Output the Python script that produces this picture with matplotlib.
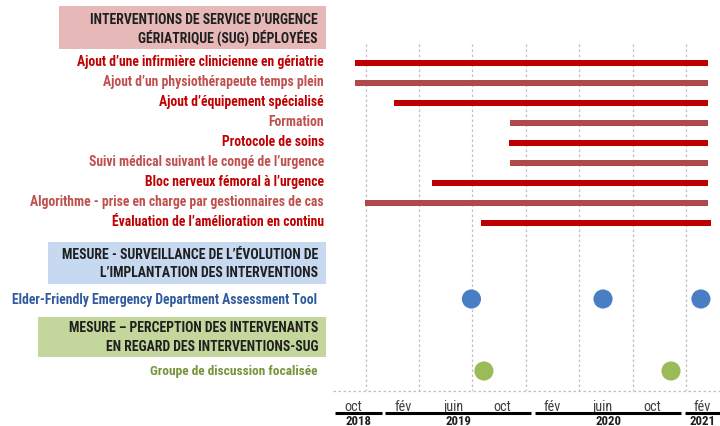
import matplotlib
matplotlib.use("Agg")
import matplotlib.pyplot as plt
from matplotlib import font_manager as fm
from matplotlib.transforms import blended_transform_factory
from matplotlib.patches import Rectangle

# ---------------- data ----------------
# time expressed in months since January 2018 (0 = Jan 2018)
interventions = [
    "Ajout d\u2019une infirmière clinicienne en gériatrie",
    "Ajout d\u2019un physiothérapeute temps plein",
    "Ajout d\u2019équipement spécialisé",
    "Formation",
    "Protocole de soins",
    "Suivi médical suivant le congé de l\u2019urgence",
    "Bloc nerveux fémoral à l\u2019urgence",
    "Algorithme - prise en charge par gestionnaires de cas",
    "Évaluation de l\u2019amélioration en continu",
]
start_months = [9.2, 9.2, 12.3, 21.6, 21.5, 21.6, 15.3, 10.0, 19.3]
end_months = [37.5, 37.5, 37.5, 37.5, 37.5, 37.5, 37.5, 37.5, 37.7]

efedat_label = "Elder-Friendly Emergency Department Assessment Tool"
efedat_months = [18.5, 29.05, 36.9]

focus_label = "Groupe de discussion focalisée"
focus_months = [19.5, 34.5]

header_interventions = ["INTERVENTIONS DE SERVICE D\u2019URGENCE", "GÉRIATRIQUE (SUG) DÉPLOYÉES"]
header_surveillance = ["MESURE - SURVEILLANCE DE L\u2019ÉVOLUTION DE", "L\u2019IMPLANTATION DES INTERVENTIONS"]
header_perception = ["MESURE \u2013 PERCEPTION DES INTERVENANTS", "EN REGARD DES INTERVENTIONS-SUG"]

month_tick_positions = [9, 13, 17, 21, 25, 29, 33, 37]
month_tick_labels = ["oct", "fév", "juin", "oct", "fév", "juin", "oct", "fév"]
years = [2018, 2019, 2020, 2021]
grid_months = [10.04, 14.3, 18.54, 22.87, 27.12, 31.45, 35.7]

# ---------------- fonts ----------------
entries = fm.fontManager.ttflist
names = {f.name for f in entries}
STRETCH = "normal"
if "Roboto Condensed" in names:
    FAM = ["Roboto Condensed", "DejaVu Sans"]
    K = 1.12
elif "Liberation Sans Narrow" in names:
    FAM = ["Liberation Sans Narrow", "DejaVu Sans"]
    K = 1.1
else:
    FAM = ["DejaVu Sans"]
    K = 0.88
plt.rcParams["font.family"] = FAM
plt.rcParams["font.stretch"] = STRETCH

# ---------------- layout helpers ----------------
W, H = 720, 427
def fx(px):
    return px / W
def ry(py):
    return (py - 64) / 20.0

fig = plt.figure(figsize=(7.2, 4.27), dpi=100)
ax = fig.add_axes([333 / W, 1 - 392 / H, 387 / W, 392 / H])
ax.set_xlim(7.40, 38.43)
ax.set_ylim(ry(392), ry(0))
for s in ax.spines.values():
    s.set_visible(False)
ax.set_yticks([])

# grid and bottom dotted line
ax.vlines(grid_months, ry(45), ry(392), colors="#BFBFBF", linestyles=(0, (2, 2)), linewidth=0.9, zorder=0)
ax.axhline(ry(391.5), color="#BFBFBF", linestyle=(0, (2, 2)), linewidth=0.9, clip_on=False, zorder=0)

# bars
bar_colors = ["#C00000" if i % 2 == 0 else "#B04A4A" for i in range(len(interventions))]
label_colors = ["#C00000" if i % 2 == 0 else "#C0504D" for i in range(len(interventions))]
rows = list(range(len(interventions)))
widths = [e - s for s, e in zip(start_months, end_months)]
ax.barh(rows, widths, left=start_months, height=0.33, color=bar_colors, zorder=2)

# dots
ax.scatter(efedat_months, [ry(300)] * len(efedat_months), s=190, color="#4A7EC4",
           edgecolors="none", zorder=3, clip_on=False)
ax.scatter(focus_months, [ry(372)] * len(focus_months), s=190, color="#9BBB59",
           edgecolors="none", zorder=3, clip_on=False)

# left labels
tr = blended_transform_factory(fig.transFigure, ax.transData)
LBL = 8.8 * K
for i, lab in enumerate(interventions):
    ax.text(fx(324), i - 0.08, lab, transform=tr, ha="right", va="center",
            fontsize=LBL, fontweight="bold", color=label_colors[i])
ax.text(fx(317), ry(300), efedat_label, transform=tr, ha="right", va="center",
        fontsize=LBL, fontweight="bold", color="#2F5A9E")
ax.text(fx(317), ry(372), focus_label, transform=tr, ha="right", va="center",
        fontsize=LBL * 0.98, fontweight="bold", color="#77933C")

# header boxes
HDR = 8.6 * K * 1.03
def header(lines, x0, py0, py1, color, line_py):
    rect = Rectangle((fx(x0), ry(py0)), fx(326) - fx(x0), ry(py1) - ry(py0),
                     transform=tr, facecolor=color, edgecolor="none", clip_on=False, zorder=1)
    ax.add_patch(rect)
    for txt, py in zip(lines, line_py):
        ax.text(fx(318), ry(py), txt, transform=tr, ha="right", va="center",
                fontsize=HDR, fontweight="bold", color="#1F1F1F", zorder=2)

header(header_interventions, 59, 7, 50, "#E6B9B8", [19.5, 38])
header(header_surveillance, 48, 243, 285, "#C6D9F1", [255, 273])
header(header_perception, 38, 318, 358, "#C3D69B", [328.5, 347])

# x axis: months
ax.set_xticks(month_tick_positions, month_tick_labels)
ax.tick_params(axis="x", length=0, pad=6, labelsize=9.2 * K, labelcolor="#404040")

# x axis: years
tb = blended_transform_factory(ax.transData, ax.transAxes)
x0, x1 = ax.get_xlim()
y_line = (392 - 413.5) / 392
y_year = (392 - 415.5) / 392
for k, yr in enumerate(years):
    s = max(12 * k - 0.4, x0 + 0.15)
    e = min(12 * k + 11.3, x1)
    ax.plot([s, e], [y_line, y_line], transform=tb, clip_on=False, color="black",
            lw=2.2, solid_capstyle="butt")
    ax.text((s + e) / 2, y_year, str(yr), transform=tb, ha="center", va="top",
            fontsize=8.2 * K, fontweight="bold", color="#1F1F1F")

fig.savefig("out.png", dpi=100)
